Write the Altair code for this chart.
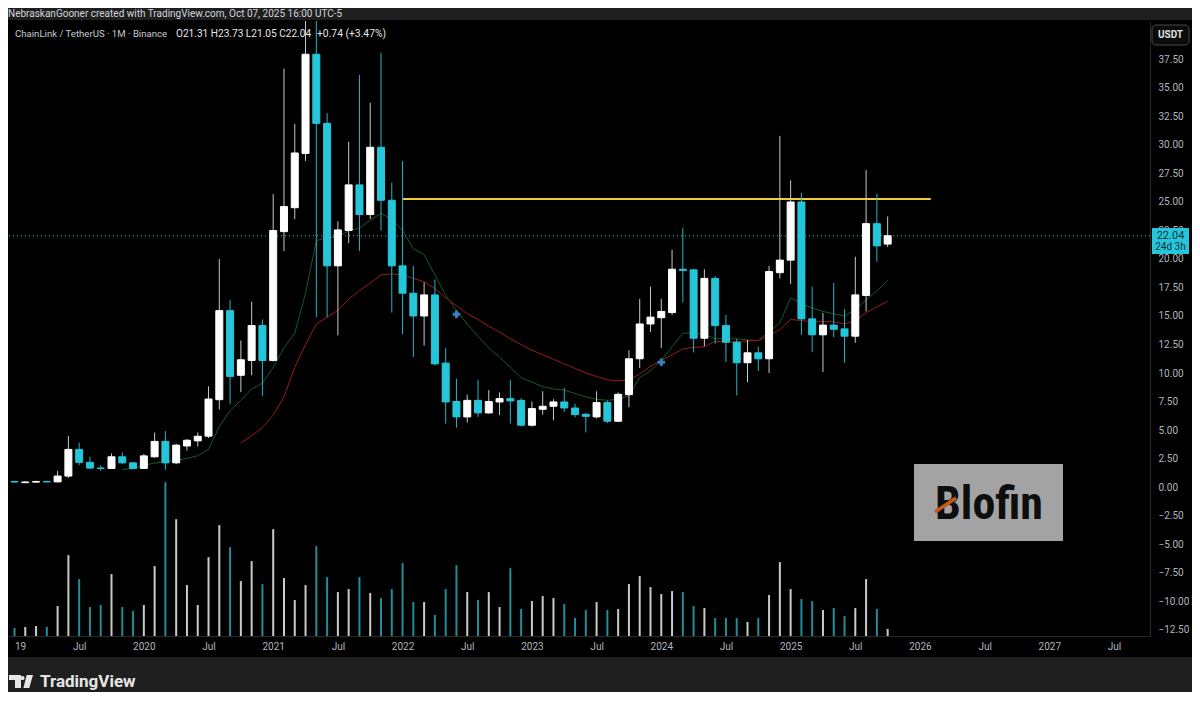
import altair as alt
import pandas as pd

# ---------------- data (monthly LINK/USDT, Jan 2019 = index 0) -------------
opens = [0.48, 0.38, 0.43, 0.48, 0.45, 0.96, 3.30, 2.16, 1.66, 1.63,
         2.65, 2.12, 1.63, 2.65, 4.00, 2.12, 3.60, 4.05, 4.46, 7.66,
         15.47, 9.80, 11.10, 14.16, 11.10, 22.40, 24.50, 29.25, 37.96, 31.90,
         19.40, 22.50, 26.50, 23.90, 29.80, 25.15, 19.40, 17.00, 15.00, 16.85,
         10.87, 7.50, 6.15, 7.60, 6.50, 7.46, 7.75, 7.60, 5.42, 6.82,
         7.08, 7.46, 6.93, 6.38, 6.15, 7.40, 5.77, 8.10, 11.25, 14.30,
         14.85, 15.30, 19.10, 19.05, 13.05, 18.30, 14.16, 12.70, 10.90, 11.77,
         11.25, 18.80, 19.90, 25.00, 14.75, 13.35, 14.20, 13.87, 13.23, 16.80,
         23.10, 21.31]
highs = [0.55, 0.52, 0.56, 0.55, 1.40, 4.48, 3.90, 2.65, 1.90, 2.94,
         3.03, 2.20, 2.90, 4.78, 4.90, 3.80, 4.20, 4.78, 8.83, 20.0,
         16.4, 12.85, 16.26, 14.70, 25.7, 36.7, 31.85, 44.4, 52.9, 32.8,
         23.3, 30.3, 36.15, 33.7, 38.1, 26.7, 28.6, 19.4, 17.95, 18.2,
         12.2, 9.5, 8.1, 9.4, 8.5, 8.3, 9.4, 7.8, 7.5, 8.4,
         7.7, 8.68, 7.3, 6.5, 8.4, 7.6, 8.3, 12.0, 16.5, 17.57,
         16.5, 20.8, 22.75, 19.1, 19.1, 18.5, 15.1, 13.0, 12.9, 12.3,
         19.4, 30.8, 26.9, 25.8, 17.57, 15.27, 17.9, 15.6, 20.2, 27.8,
         25.7, 23.73]
lows = [0.38, 0.35, 0.40, 0.40, 0.41, 0.80, 1.92, 1.60, 1.43, 1.60,
        2.00, 1.60, 1.60, 2.55, 1.50, 2.00, 3.20, 3.55, 4.30, 6.80,
        7.30, 8.33, 9.80, 8.00, 11.0, 20.7, 23.5, 28.6, 14.9, 14.9,
        13.3, 21.4, 20.7, 23.5, 22.5, 15.3, 13.4, 11.4, 12.4, 10.66,
        5.56, 5.2, 5.65, 6.15, 6.44, 6.3, 5.56, 5.3, 5.3, 6.35,
        5.86, 6.58, 6.1, 4.78, 6.0, 5.6, 5.7, 7.0, 10.43, 13.6,
        12.2, 15.1, 16.2, 11.8, 12.35, 12.56, 10.95, 8.04, 9.2, 10.17,
        10.0, 18.3, 17.8, 13.35, 11.83, 10.08, 13.14, 10.9, 12.65, 15.4,
        19.75, 21.05]
closes = [0.44, 0.44, 0.48, 0.45, 0.96, 3.30, 2.16, 1.66, 1.63, 2.65,
          2.12, 1.63, 2.73, 4.00, 2.12, 3.67, 4.10, 4.45, 7.72, 15.47,
          9.70, 11.16, 14.16, 11.10, 22.50, 24.60, 29.30, 37.96, 31.90, 19.40,
          22.55, 26.50, 23.90, 29.80, 25.15, 19.40, 17.00, 15.00, 16.85, 10.80,
          7.46, 6.15, 7.60, 6.50, 7.50, 7.75, 7.55, 5.42, 6.88, 7.08,
          7.46, 6.93, 6.35, 6.20, 7.40, 5.77, 8.13, 11.25, 14.30, 14.90,
          15.40, 19.10, 19.00, 13.05, 18.30, 14.16, 12.70, 10.90, 11.77, 11.25,
          18.90, 19.90, 25.00, 14.75, 13.35, 14.20, 13.84, 13.23, 16.85, 23.10,
          21.15, 22.04]
volume_rel = [8, 9, 10, 9, 30, 81, 57, 29, 31, 62,
              29, 25, 31, 70, 154, 117, 51, 31, 79, 111,
              89, 55, 75, 52, 107, 58, 36, 51, 90, 59,
              44, 47, 59, 43, 38, 47, 73, 34, 34, 21,
              47, 71, 44, 36, 44, 29, 68, 27, 35, 40,
              38, 32, 18, 26, 34, 26, 27, 52, 60, 49,
              42, 45, 44, 30, 28, 18, 18, 18, 14, 18,
              41, 74, 47, 37, 35, 26, 28, 20, 28, 57,
              27, 7]

green_start = 10
green_ma = [1.55, 1.6, 1.9, 2.1, 2.2, 2.35, 2.5, 2.75, 3.3, 5.3,
            6.7, 7.6, 8.6, 9.1, 10.5, 12.2, 13.5, 17.0, 21.6, 21.9,
            21.9, 22.5, 22.7, 23.4, 24.0, 23.5, 22.5, 20.9, 20.4, 18.6,
            16.8, 15.5, 14.3, 13.2, 12.2, 11.4, 10.5, 9.6, 9.2, 8.8,
            8.6, 8.5, 8.2, 7.9, 7.7, 7.6, 7.7, 8.0, 9.6, 10.2,
            11.1, 12.3, 13.5, 13.5, 13.4, 13.0, 13.0, 13.0, 12.9, 12.85,
            13.6, 14.4, 16.6, 16.1, 15.7, 15.4, 15.2, 15.0, 15.6, 16.4,
            17.2, 18.1]
red_start = 21
red_ma = [3.85, 4.5, 5.2, 6.3, 7.9, 10.5, 12.5, 14.3, 14.9, 15.5,
          16.5, 17.2, 17.9, 18.6, 18.7, 18.6, 18.3, 18.0, 17.4, 16.6,
          15.9, 15.2, 14.7, 14.1, 13.6, 13.0, 12.5, 12.0, 11.6, 11.2,
          10.8, 10.4, 10.0, 9.7, 9.4, 9.3, 9.4, 9.9, 10.6, 11.1,
          11.6, 12.1, 12.25, 12.3, 12.8, 12.7, 12.75, 12.8, 12.85, 13.3,
          13.8, 14.7, 14.6, 14.5, 14.5, 14.5, 14.3, 14.6, 15.3, 15.8,
          16.3]

level_start = [36]
level_end = [85]
level_price = [25.26]

marker_m = [41, 60]
marker_price = [15.15, 10.95]

time_tick_values = [0, 6, 12, 18, 24, 30, 36, 42, 48, 54, 60, 66, 72, 78, 84, 90, 96, 102]
price_tick_values = [-12.5, -10, -7.5, -5, -2.5, 0, 2.5, 5, 7.5, 10, 12.5, 15, 17.5,
                     20, 22.5, 25, 27.5, 30, 32.5, 35, 37.5]

header_text = "NebraskanGooner created with TradingView.com, Oct 07, 2025 16:00 UTC-5"
legend_symbol = "ChainLink / TetherUS · 1M · Binance"
legend_ohlc = "O21.31 H23.73 L21.05 C22.04"
legend_change = "+0.74 (+3.47%)"
countdown_text = "24d 3h"

# ---------------- styling ----------------
UP_BODY, DOWN_BODY = "#ffffff", "#26c6da"
UP_WICK, DOWN_WICK = "#c9c9c9", "#27b3c6"
UP_VOL, DOWN_VOL = "#cacaca", "#1f8e9b"
FONT = "Roboto"
W, H = 1142, 615
X_DOMAIN = [-0.138, 104.874]
Y_DOMAIN = [-13.07, 40.877]

df = pd.DataFrame({"m": list(range(len(opens))), "open": opens, "high": highs,
                   "low": lows, "close": closes, "vol": volume_rel})
up = df["close"] >= df["open"]
df["body_col"] = up.map({True: UP_BODY, False: DOWN_BODY})
df["wick_col"] = up.map({True: UP_WICK, False: DOWN_WICK})
df["vol_col"] = up.map({True: UP_VOL, False: DOWN_VOL})

green_df = pd.DataFrame({"m": list(range(green_start, green_start + len(green_ma))), "v": green_ma})
red_df = pd.DataFrame({"m": list(range(red_start, red_start + len(red_ma))), "v": red_ma})
level_df = pd.DataFrame({"m0": level_start, "m1": level_end, "p": level_price})
marker_df = pd.DataFrame({"m": marker_m, "p": marker_price})
last_df = pd.DataFrame({"p": [closes[-1]], "t": [f"{closes[-1]:.2f}"], "c": [countdown_text]})

x_axis = alt.Axis(values=time_tick_values, ticks=False, grid=False, labelFlush=False,
                  labelOverlap=False, domainColor="#2b2b2b", labelColor="#b2b5be",
                  labelFont=FONT, labelFontSize=10, labelPadding=5, labelBaseline="top",
                  labelAlign={"condition": {"test": "datum.value == 0", "value": "left"}, "value": "center"},
                  labelExpr="datum.value == 0 ? '19' : (datum.value % 12 == 6 ? 'Jul' : format(2019 + datum.value / 12, 'd'))",
                  title=None)
y_axis = alt.Axis(orient="right", values=price_tick_values, format=".2f", ticks=False, grid=False,
                  labelOverlap=False, domainColor="#2b2b2b", labelColor="#b2b5be", labelFont=FONT,
                  labelFontSize=10, labelPadding=8, labelAlign="left", labelBaseline="middle",
                  title=None)
xs = alt.Scale(domain=X_DOMAIN, nice=False, zero=False)
ys = alt.Scale(domain=Y_DOMAIN, nice=False, zero=False)

def X(field):
    return alt.X(field, type="quantitative", scale=xs, axis=x_axis)

def Y(field):
    return alt.Y(field, type="quantitative", scale=ys, axis=y_axis)

one = pd.DataFrame({"k": [0]})

# decoration bands (outside the black chart frame)
header_band = alt.Chart(one).mark_rect(color="#1f1f1f").encode(
    x=alt.value(-8), x2=alt.value(1184), y=alt.value(-13), y2=alt.value(-1))
footer_band = alt.Chart(one).mark_rect(color="#1f1f1f").encode(
    x=alt.value(-8), x2=alt.value(1184), y=alt.value(636), y2=alt.value(671))

green_line = alt.Chart(green_df).mark_line(color="#175a22", strokeWidth=1, clip=True).encode(
    x=X("m"), y=Y("v"))
red_line = alt.Chart(red_df).mark_line(color="#9a1b1b", strokeWidth=1, clip=True).encode(
    x=X("m"), y=Y("v"))
level_line = alt.Chart(level_df).mark_rule(color="#f0d03a", strokeWidth=2).encode(
    x=X("m0"), x2="m1", y=Y("p"))
last_line = alt.Chart(last_df).mark_rule(color="#26c6da", strokeWidth=1, strokeDash=[1, 3]).encode(
    y=Y("p"))
wicks = alt.Chart(df).mark_rule(strokeWidth=1, clip=True).encode(
    x=X("m"), y=Y("low"), y2="high", color=alt.Color("wick_col:N", scale=None))
bodies = alt.Chart(df).mark_bar(size=7, strokeWidth=1, clip=True).encode(
    x=X("m"), y=Y("open"), y2="close",
    fill=alt.Fill("body_col:N", scale=None), stroke=alt.Stroke("body_col:N", scale=None))
markers = alt.Chart(marker_df).mark_point(shape="cross", filled=True, size=55, color="#3a80c0", opacity=1).encode(
    x=X("m"), y=Y("p"))

blofin_box = alt.Chart(one).mark_rect(color="#a3a3a3").encode(
    x=alt.value(906), x2=alt.value(1055), y=alt.value(443), y2=alt.value(520))
blofin_text = alt.Chart(one).mark_text(font="Liberation Sans Narrow, Roboto Condensed, Roboto", fontWeight="bold",
                                        fontSize=46, color="#0e0e0e", align="center", baseline="middle").encode(
    x=alt.value(981), y=alt.value(484), text=alt.value("Blofin"))
blofin_slash = alt.Chart(one).mark_rule(color="#c85a1a", strokeWidth=3.5).encode(
    x=alt.value(927), x2=alt.value(948), y=alt.value(491), y2=alt.value(477))

header = alt.Chart(one).mark_text(font=FONT, fontSize=10, color="#d1d4dc", align="left", baseline="middle").encode(
    x=alt.value(0), y=alt.value(-7.5), text=alt.value(header_text))
leg1 = alt.Chart(one).mark_text(font=FONT, fontSize=9.6, color="#c8cbd2", align="left", baseline="middle").encode(
    x=alt.value(7), y=alt.value(13), text=alt.value(legend_symbol))
leg2 = alt.Chart(one).mark_text(font=FONT, fontSize=10.1, color="#e6e6e6", align="left", baseline="middle").encode(
    x=alt.value(168), y=alt.value(13), text=alt.value(legend_ohlc))
leg3 = alt.Chart(one).mark_text(font=FONT, fontSize=10.3, color="#e6e6e6", align="left", baseline="middle").encode(
    x=alt.value(309), y=alt.value(13), text=alt.value(legend_change))

usdt_box = alt.Chart(one).mark_rect(fill="#0b0b0b", stroke="#4a4a4a", strokeWidth=1, cornerRadius=4).encode(
    x=alt.value(1144), x2=alt.value(1181), y=alt.value(4), y2=alt.value(24))
usdt_text = alt.Chart(one).mark_text(font=FONT, fontSize=10, fontWeight="bold", color="#e0e0e0",
                                     align="center", baseline="middle").encode(
    x=alt.value(1162.5), y=alt.value(14), text=alt.value("USDT"))

price_box = alt.Chart(one).mark_rect(color="#26c6da").encode(
    x=alt.value(1144), x2=alt.value(1181), y=alt.value(207), y2=alt.value(233))
price_text = alt.Chart(last_df).mark_text(font=FONT, fontSize=11, color="#0b3340", align="center",
                                          baseline="middle").encode(
    x=alt.value(1162.5), y=Y("p"), text="t:N")
count_text = alt.Chart(last_df).mark_text(font=FONT, fontSize=10, color="#0b3340", align="center",
                                          baseline="middle").encode(
    x=alt.value(1162.5), y=alt.value(226), text="c:N")

logo_path = ("M-1,-0.54 L0,-0.54 L0,0.54 L-0.5,0.54 L-0.5,-0.12 L-1,-0.12 Z "
             "M0.3,-0.29 A0.17,0.17 0 1,1 -0.04,-0.29 A0.17,0.17 0 1,1 0.3,-0.29 Z "
             "M0.47,-0.54 L1,-0.54 L0.69,0.54 L0.2,0.54 Z")
logo = alt.Chart(one).mark_point(shape=logo_path, filled=True, size=576, color="#e6e6e6", opacity=1).encode(
    x=alt.value(13), y=alt.value(660.5))
logo_text = alt.Chart(one).mark_text(font=FONT, fontSize=17, fontWeight="bold", color="#e6e6e6",
                                     align="left", baseline="middle").encode(
    x=alt.value(32), y=alt.value(661), text=alt.value("TradingView"))

volume = alt.Chart(df).mark_bar(size=2, clip=True).encode(
    x=X("m"),
    y=alt.Y("vol:Q", scale=alt.Scale(domain=[0, 4 * max(volume_rel)], nice=False), axis=None),
    color=alt.Color("vol_col:N", scale=None))

price_group = alt.layer(
    green_line, red_line, level_line, last_line, wicks, bodies, markers,
    blofin_box, blofin_text, blofin_slash,
    header_band, footer_band, header, leg1, leg2, leg3,
    usdt_box, usdt_text, price_box, price_text, count_text, logo, logo_text)

chart = alt.layer(volume, price_group).resolve_scale(y="independent").properties(
    width=W, height=H,
    autosize=alt.AutoSizeParams(type="none"),
    padding={"left": 0, "top": 13, "right": 42, "bottom": 56},
    background="#000000",
).configure_view(stroke=None)

chart.save("out.html", embed_options={"renderer": "svg", "actions": False})
